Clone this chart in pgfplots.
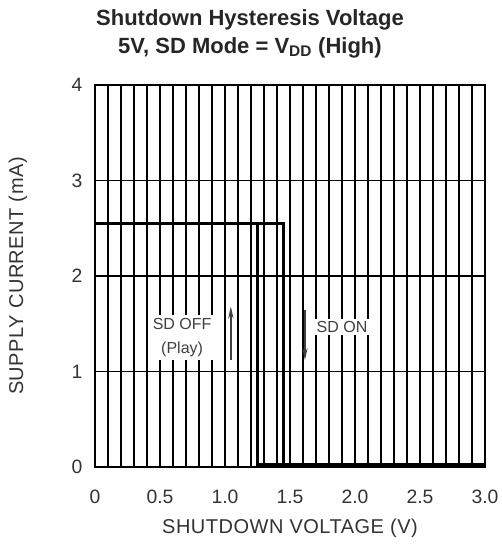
\documentclass[border=0pt]{standalone}
\usepackage{pgfplots}
\pgfplotsset{compat=1.18}
\usepackage{fontspec}
\setmainfont{Liberation Sans}
\newfontfamily\labelfont[LetterSpace=2.5]{Liberation Sans}
\usetikzlibrary{arrows.meta}

\begin{document}
\begin{tikzpicture}
  % page = 501x551 px, 1px = 0.75pt, axis box at origin
  \useasboundingbox (-71.25pt,-63pt) rectangle (304.5pt,350.25pt);
  \begin{axis}[
      at={(0pt,0pt)}, anchor=south west,
      scale only axis, width=292.5pt, height=286.5pt,
      xmin=0, xmax=3, ymin=0, ymax=4,
      xtick={0,0.5,...,3}, xticklabels={0,0.5,1.0,1.5,2.0,2.5,3.0},
      minor x tick num=4,
      ytick={0,1,2,3,4},
      /pgf/number format/assume math mode=true,
      grid=both,
      major grid style={black, line width=1.1pt},
      minor grid style={black, line width=1.1pt},
      axis line style={black, line width=1.5pt},
      tick style={draw=none},
      ticklabel style={font=\fontsize{14.5}{16}\selectfont, text=black!80},
      xticklabel style={yshift=-14pt},
      yticklabel style={xshift=-6pt},
      every axis x label/.style={at={(axis description cs:0.5,0)}, anchor=center, yshift=-45.75pt,
        font=\labelfont\fontsize{15}{17}\selectfont, text=black!80},
      every axis y label/.style={at={(axis description cs:0,0.5)}, anchor=center, rotate=90, yshift=57.75pt,
        font=\labelfont\fontsize{15}{17}\selectfont, text=black!80},
      xlabel={SHUTDOWN VOLTAGE (V)},
      ylabel={SUPPLY CURRENT (mA)},
    ]
    \addplot[black, line width=2.3pt, line join=miter] coordinates {(0,2.55) (1.45,2.55) (1.45,0.02)};
    \addplot[black, line width=2.6pt, line join=miter] coordinates {(1.25,2.55) (1.25,0.02) (3,0.02)};
    \node[fill=white, align=center, inner sep=2pt, text=black!75,
          font=\fontsize{12}{18.5}\selectfont] at (axis cs:0.67,1.355) {SD OFF\\(Play)};
    \node[fill=white, inner sep=2pt, text=black!75,
          font=\fontsize{12}{18}\selectfont] at (axis cs:1.9,1.466) {SD ON};
    \draw[black!75, line width=1pt, -{Stealth[length=9pt,width=4pt]}] (axis cs:1.045,1.12) -- (axis cs:1.045,1.68);
    \draw[black!75, line width=1pt, -{Stealth[length=9pt,width=4pt]}] (axis cs:1.615,1.64) -- (axis cs:1.615,1.12);
  \end{axis}
  \node[font=\bfseries\fontsize{16.5}{19}\selectfont, text=black!85] at (116.25pt,335.5pt) {Shutdown Hysteresis Voltage};
  \node[font=\bfseries\fontsize{16.5}{19}\selectfont, text=black!85] at (116.25pt,314.5pt) {5V, SD Mode = V\textsubscript{DD} (High)};
\end{tikzpicture}
\end{document}
